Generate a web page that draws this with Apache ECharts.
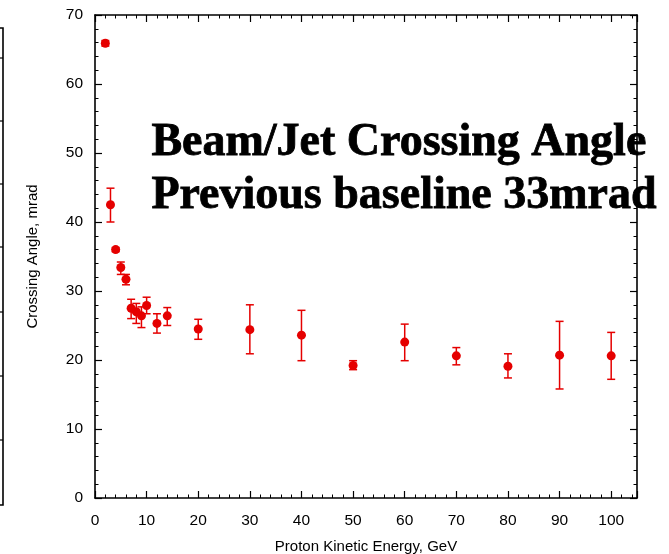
<!DOCTYPE html>
<html><head><meta charset="utf-8">
<script src="https://cdn.jsdelivr.net/npm/echarts@6/dist/echarts.min.js"></script>
<style>html,body{margin:0;padding:0;background:#fff}#c{width:669px;height:554px}</style>
</head><body><div id="c"></div>
<script>
// Data
const energy   = [2, 3, 4, 5, 6, 7, 8, 9, 10, 12, 14, 20, 30, 40, 50, 60, 70, 80, 90, 100];
const angle    = [65.9, 42.5, 36.0, 33.4, 31.7, 27.5, 27.0, 26.4, 27.9, 25.3, 26.4, 24.5, 24.4, 23.6, 19.2, 22.6, 20.6, 19.1, 20.7, 20.6];
const errLow   = [65.5, 40.0, 35.7, 32.4, 30.9, 26.0, 25.3, 24.7, 26.7, 23.9, 25.0, 23.0, 20.9, 19.9, 18.6, 19.9, 19.3, 17.4, 15.8, 17.2];
const errHigh  = [66.3, 44.9, 36.3, 34.2, 32.4, 28.8, 28.2, 27.7, 29.1, 26.7, 27.6, 25.9, 28.0, 27.2, 19.9, 25.2, 21.8, 20.9, 25.6, 24.0];
const xTickLabels = [0, 10, 20, 30, 40, 50, 60, 70, 80, 90, 100];
const yTickLabels = [0, 10, 20, 30, 40, 50, 60, 70];
const xMax = 105;
const titleLines = ['Beam/Jet Crossing Angle', 'Previous baseline 33mrad'];
const xName = 'Proton Kinetic Energy, GeV';
const yName = 'Crossing Angle, mrad';

const RED = '#e50000';
const chart = echarts.init(document.getElementById('c'), null, {renderer: 'canvas'});

const pts = energy.map((e, i) => [e, angle[i]]);
const bars = energy.map((e, i) => [e, errLow[i], errHigh[i]]);

function axisCommon(show) {
  return {
    axisLine: {show: true, onZero: false, lineStyle: {color: '#000', width: 1.6}},
    axisTick: {show: true, inside: true, length: 7, lineStyle: {color: '#000', width: 1.2}},
    minorTick: {show: true, splitNumber: 5, length: 3.5, lineStyle: {color: '#000', width: 1}},
    splitLine: {show: false},
    axisLabel: {show: show, color: '#000', fontFamily: 'Liberation Sans', fontSize: 15.5, margin: 12},
    z: 10
  };
}

const xStep = xTickLabels[1] - xTickLabels[0];
const yStep = yTickLabels[1] - yTickLabels[0];

const option = {
  animation: false,
  backgroundColor: '#fff',
  grid: {left: 95, right: 32, top: 15, bottom: 56, containLabel: false, outerBoundsMode: 'none'},
  xAxis: [
    Object.assign(axisCommon(true), {
      type: 'value', min: xTickLabels[0], max: xMax, interval: xStep, position: 'bottom',
      name: xName, nameLocation: 'middle', nameGap: 41,
      nameTextStyle: {color: '#000', fontFamily: 'Liberation Sans', fontSize: 15},
    }),
    Object.assign(axisCommon(false), {
      type: 'value', min: xTickLabels[0], max: xMax, interval: xStep, position: 'top'
    })
  ],
  yAxis: [
    Object.assign(axisCommon(true), {
      type: 'value', min: yTickLabels[0], max: yTickLabels[yTickLabels.length - 1], interval: yStep, position: 'left',
      name: yName, nameLocation: 'middle', nameGap: 55,
      nameTextStyle: {color: '#000', fontFamily: 'Liberation Sans', fontSize: 15},
    }),
    Object.assign(axisCommon(false), {
      type: 'value', min: yTickLabels[0], max: yTickLabels[yTickLabels.length - 1], interval: yStep, position: 'right'
    })
  ],
  graphic: [
    {
      type: 'text', left: 151, top: 120, z: 1,
      style: {text: titleLines[0], font: 'bold 46px "Liberation Serif"', fill: '#000', stroke: '#000', lineWidth: 0.8}
    },
    {
      type: 'text', left: 151, top: 173, z: 1,
      style: {text: titleLines[1], font: 'bold 46px "Liberation Serif"', fill: '#000', stroke: '#000', lineWidth: 0.8}
    },
    {
      type: 'polyline', z: 10,
      shape: {points: [[0, 28], [3, 28], [3, 505], [0, 505]]},
      style: {stroke: '#000', lineWidth: 1.6, fill: null}
    },
    {
      type: 'group', z: 10,
      children: [58, 121, 184, 247, 312, 376, 440].map(y => ({
        type: 'line', shape: {x1: 0, y1: y, x2: 3, y2: y}, style: {stroke: '#000', lineWidth: 1.2}
      }))
    }
  ],
  series: [
    {
      type: 'custom', xAxisIndex: 0, yAxisIndex: 0, z: 3,
      data: bars,
      renderItem: function (params, api) {
        const lo = api.coord([api.value(0), api.value(1)]);
        const hi = api.coord([api.value(0), api.value(2)]);
        const w = 4;
        return {
          type: 'group',
          children: [
            {type: 'line', shape: {x1: lo[0], y1: lo[1], x2: hi[0], y2: hi[1]}, style: {stroke: RED, lineWidth: 1.5}},
            {type: 'line', shape: {x1: lo[0] - w, y1: lo[1], x2: lo[0] + w, y2: lo[1]}, style: {stroke: RED, lineWidth: 1.5}},
            {type: 'line', shape: {x1: hi[0] - w, y1: hi[1], x2: hi[0] + w, y2: hi[1]}, style: {stroke: RED, lineWidth: 1.5}}
          ]
        };
      }
    },
    {
      type: 'scatter', xAxisIndex: 0, yAxisIndex: 0, z: 4,
      data: pts, symbol: 'circle', symbolSize: 9,
      itemStyle: {color: RED, opacity: 1}
    }
  ]
};
option.xAxis[0].axisLabel.showMaxLabel = false;
option.xAxis[0].axisLabel.margin = 15;
chart.setOption(option);
</script>
</body></html>
